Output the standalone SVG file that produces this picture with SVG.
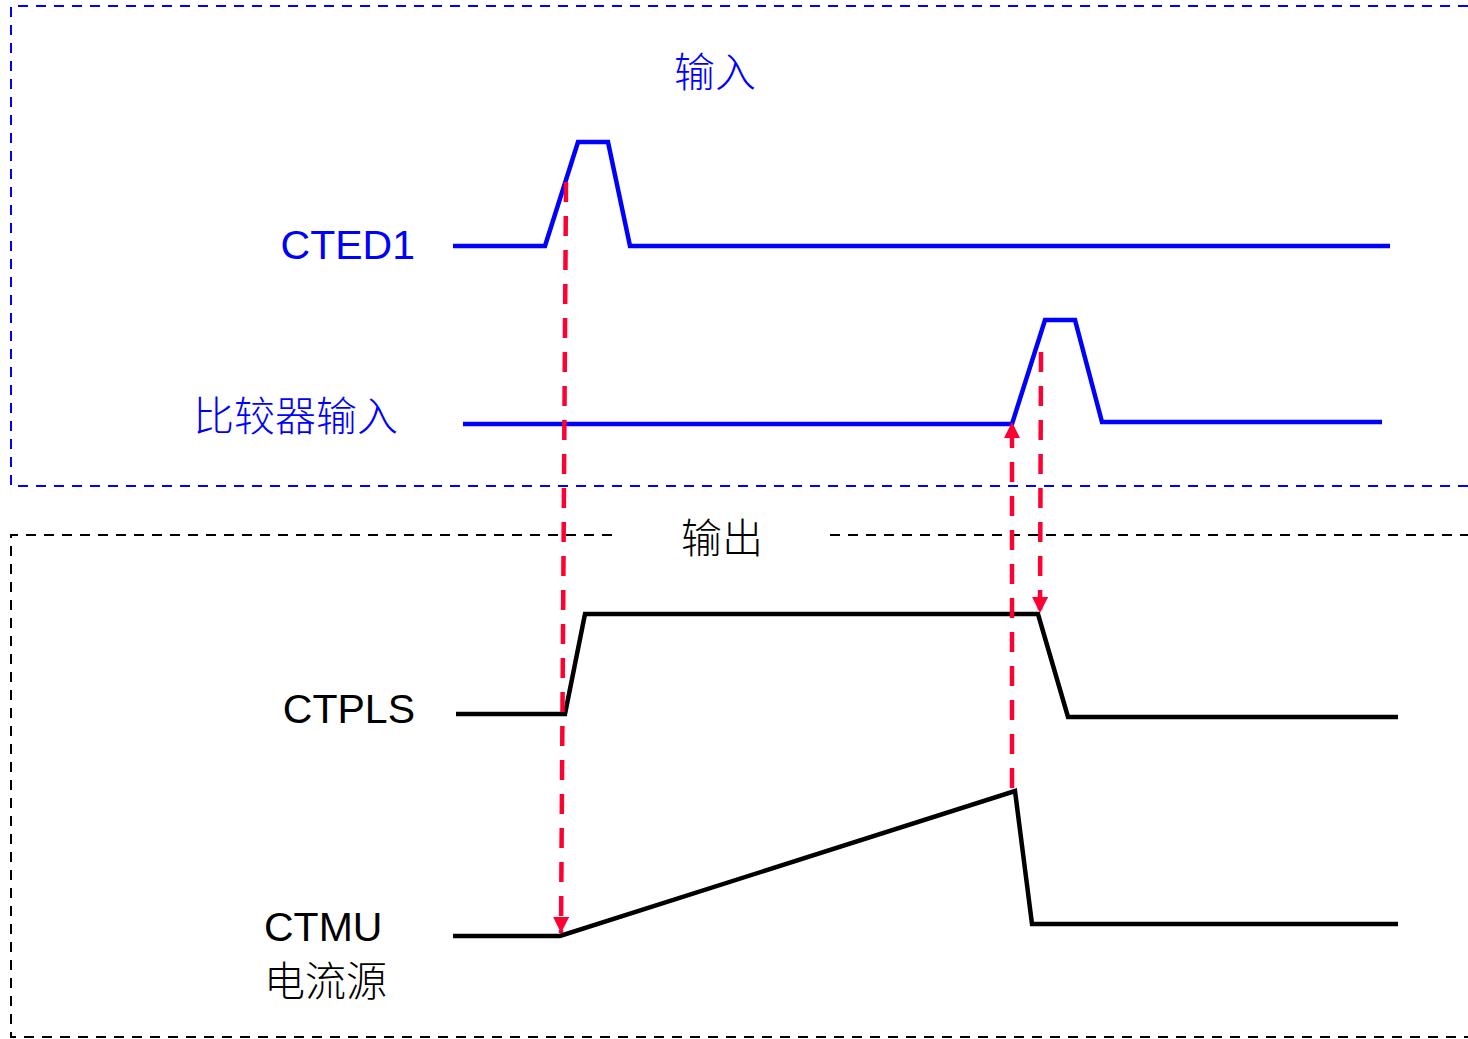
<svg xmlns="http://www.w3.org/2000/svg" width="1468" height="1039" viewBox="0 0 1468 1039">
<defs>
<style>
.blue{fill:none;stroke:#0000ff;stroke-width:4.5;stroke-linejoin:miter}
.blk{fill:none;stroke:#000;stroke-width:4.5;stroke-linejoin:miter}
.red{fill:none;stroke:#ff0033;stroke-width:4.5;stroke-dasharray:20,14}
.t{font-family:"Liberation Sans",Arial,"Noto Sans CJK SC",sans-serif;font-size:41px}
.cjk{font-family:"Noto Sans CJK SC","Liberation Sans",sans-serif;font-size:41px;font-weight:300}
</style>
<marker id="ahr" viewBox="0 0 16 16" markerWidth="16" markerHeight="16" refX="16" refY="8" orient="auto" markerUnits="userSpaceOnUse">
<path d="M0,0 L16,8 L0,16 Z" fill="#ff0033"/>
</marker>
</defs>
<rect width="1468" height="1039" fill="#fff"/>
<g id="input-box">
<path d="M1468,6 H11 V486 H1468" fill="none" stroke="#0000ff" stroke-width="2" stroke-dasharray="10,8"/>
<text class="cjk" x="715" y="87" text-anchor="middle" fill="#0000ff">输入</text>
</g>
<g id="output-box">
<path d="M612,535 H11 V1037 H1468" fill="none" stroke="#000" stroke-width="2" stroke-dasharray="10,8"/>
<path d="M830,535 H1468" fill="none" stroke="#000" stroke-width="2" stroke-dasharray="10,8"/>
<text class="cjk" x="722" y="553" text-anchor="middle" fill="#000">输出</text>
</g>
<g id="cted1">
<text class="t" x="415" y="259" text-anchor="end" fill="#0000ff">CTED1</text>
<polyline class="blue" points="453,246 545,246 578,142 608,142 630,246 1390,246"/>
</g>
<g id="comparator">
<text class="cjk" x="398" y="431" text-anchor="end" fill="#0000ff">比较器输入</text>
<polyline class="blue" points="463,424 1012,424 1045,320 1075,320 1102,422 1382,422"/>
</g>
<g id="ctpls">
<text class="t" x="415" y="723" text-anchor="end" fill="#000">CTPLS</text>
<polyline class="blk" points="456,714 565,714 585,614 1038,614 1068,717 1398,717"/>
</g>
<g id="ctmu">
<text class="t" x="264" y="941" fill="#000">CTMU</text>
<text class="cjk" x="264" y="996" fill="#000">电流源</text>
<polyline class="blk" points="453,936 560,936 1015,791 1032,924 1398,924"/>
</g>
<g id="connectors">
<line class="red" x1="566" y1="182" x2="561" y2="933" marker-end="url(#ahr)"/>
<line class="red" x1="1012" y1="788" x2="1012" y2="422" marker-end="url(#ahr)"/>
<line class="red" x1="1041" y1="352" x2="1040" y2="613" marker-end="url(#ahr)"/>
</g>
</svg>
